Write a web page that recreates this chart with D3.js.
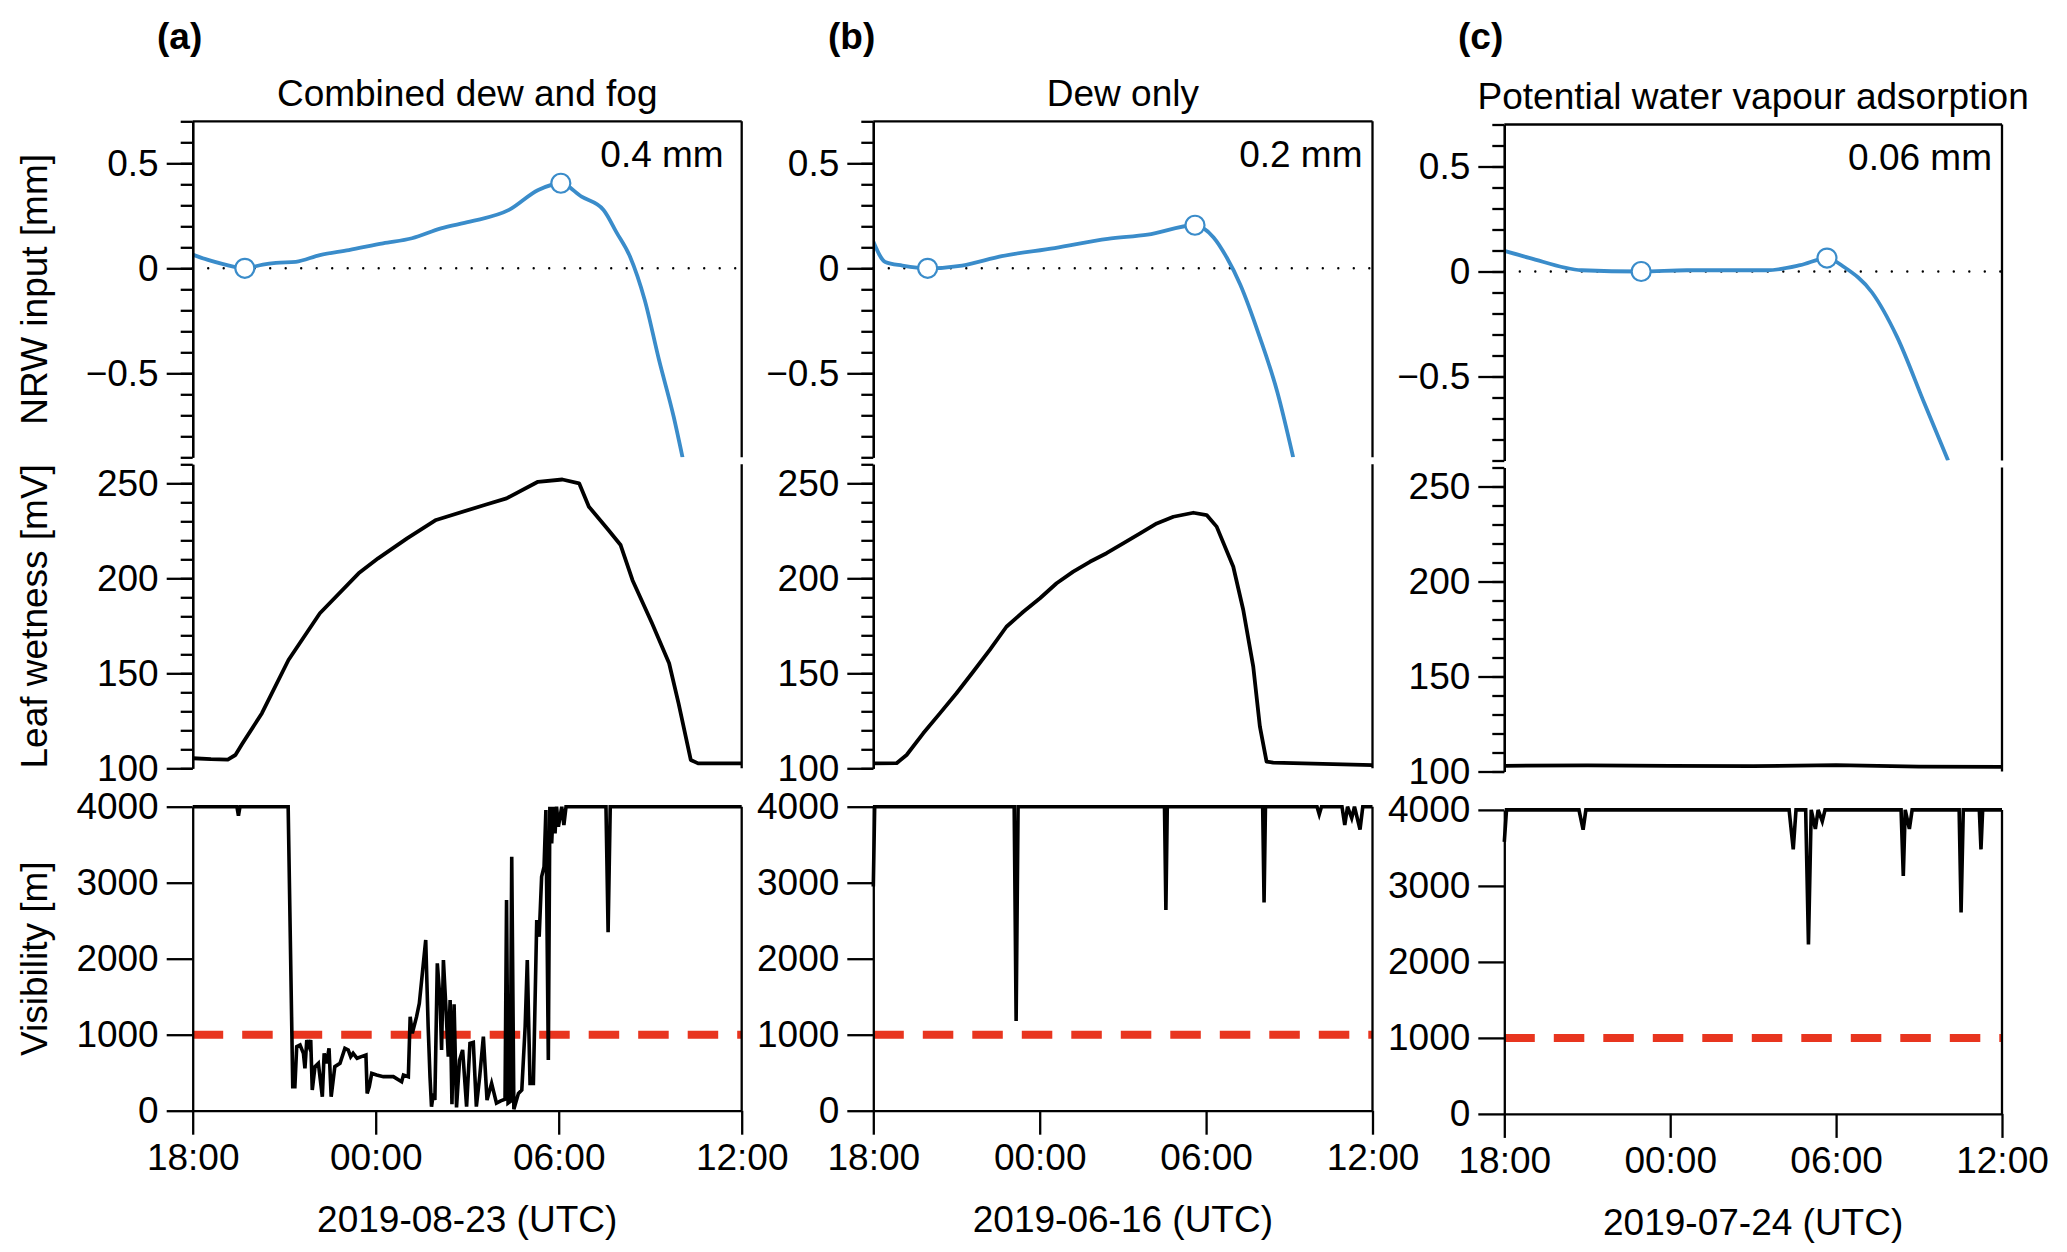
<!DOCTYPE html>
<html>
<head>
<meta charset="utf-8">
<script src="https://cdn.jsdelivr.net/npm/d3@7"></script>
<style>
  body { margin: 0; background: #fff; }
  svg { display: block; font-family: "Liberation Sans", Arial, Helvetica, sans-serif; }
</style>
</head>
<body>
<div id="chart"></div>
<script>
// ---- data (time in hours after 18:00 UTC of the previous day) ----
const hourTicks = [0, 6, 12, 18];
const hourLabels = ['18:00', '00:00', '06:00', '12:00'];
const panelLetters = ['(a)', '(b)', '(c)'];
const panelTitles = ['Combined dew and fog', 'Dew only', 'Potential water vapour adsorption'];
const dateLabels = ['2019-08-23 (UTC)', '2019-06-16 (UTC)', '2019-07-24 (UTC)'];
const inputLabels = ['0.4 mm', '0.2 mm', '0.06 mm'];
const rowLabels = ['NRW input [mm]', 'Leaf wetness [mV]', 'Visibility [m]'];
const fogThreshold = 1000;

const nrwA = [[0, 0.065], [0.5, 0.04], [1.0, 0.02], [1.71, 0], [2.3, 0.018], [2.73, 0.026], [3.38, 0.031],
  [4.17, 0.063], [5.12, 0.087], [6.24, 0.119], [7.19, 0.143], [8.14, 0.19], [9.09, 0.222], [10.37, 0.278],
  [11.33, 0.373], [12.07, 0.405], [12.75, 0.341], [13.47, 0.278], [13.9, 0.17], [14.34, 0.055],
  [14.82, -0.151], [15.29, -0.437], [15.77, -0.707], [16.06, -0.9]];
const nrwB = [[0, 0.128], [0.43, 0.03], [1.05, 0.013], [1.96, 0], [3.2, 0.013], [4.63, 0.058], [6.54, 0.096],
  [8.45, 0.14], [9.89, 0.16], [11.6, 0.205], [12.27, 0.147], [12.75, 0.05], [13.23, -0.077], [13.94, -0.33],
  [14.57, -0.59], [15.14, -0.9]];
const nrwC = [[0, 0.098], [0.9, 0.065], [2.8, 0.006], [4.95, 0], [6.6, 0.006], [9.5, 0.006], [10.7, 0.03],
  [11.67, 0.064], [12.3, 0.02], [13.3, -0.1], [14.2, -0.31], [15.2, -0.63], [16.05, -0.9]];

const marksA = [[1.71, 0], [12.07, 0.405]];
const marksB = [[1.96, 0], [11.6, 0.205]];
const marksC = [[4.95, 0], [11.67, 0.064]];

const leafA = [[0, 105.3], [0.6, 104.8], [1.15, 104.6], [1.4, 107], [1.63, 113], [2.27, 129], [3.14, 157],
  [4.17, 181.6], [5.44, 202.6], [6.08, 210.5], [7.03, 221], [7.98, 230.7], [9.57, 238.6], [10.29, 242.1],
  [11.32, 250.8], [12.12, 252], [12.67, 250], [12.99, 237.7], [13.63, 225.4], [14.03, 217.5], [14.42, 199],
  [15.06, 176.3], [15.62, 155.3], [15.93, 134.2], [16.33, 104.4], [16.57, 102.6], [18, 102.6]];
const leafB = [[0, 102.6], [0.84, 102.7], [1.2, 107], [1.8, 118.4], [2.4, 128.9], [3.0, 139.5], [3.6, 150.8],
  [4.2, 162.3], [4.8, 174.5], [5.41, 182.4], [6.01, 189.5], [6.61, 197.4], [7.21, 203.5], [7.81, 208.7],
  [8.41, 213.2], [9.01, 218.4], [9.62, 223.7], [10.22, 228.9], [10.82, 232.4], [11.54, 234.5], [12.02, 233.3],
  [12.38, 227.2], [12.98, 206.1], [13.34, 183.3], [13.7, 153.5], [13.94, 121.9], [14.18, 103.5], [14.42, 103],
  [18, 101.7]];
const leafC = [[0, 103], [3, 103.2], [6, 103], [9, 102.8], [12, 103.4], [15, 102.6], [18, 102.4]];

const visA = [[0, 4000], [1.45, 4000], [1.5, 3880], [1.55, 4000], [3.13, 4000], [3.28, 316], [3.35, 316],
  [3.41, 842], [3.52, 864], [3.63, 755], [3.68, 558], [3.74, 930], [3.82, 842], [3.87, 930], [3.92, 272],
  [4.01, 580], [4.12, 623], [4.25, 184], [4.31, 755], [4.39, 623], [4.47, 820], [4.54, 184], [4.66, 580],
  [4.83, 623], [4.99, 820], [5.1, 798], [5.18, 711], [5.26, 755], [5.39, 690], [5.53, 711], [5.68, 733],
  [5.72, 228], [5.79, 316], [5.87, 492], [6.03, 470], [6.25, 448], [6.58, 448], [6.85, 382], [6.91, 470],
  [7.07, 448], [7.13, 1237], [7.2, 1018], [7.34, 1237], [7.43, 1412], [7.64, 2246], [7.72, 1105],
  [7.78, 448], [7.83, 53], [7.89, 228], [7.94, 140], [8.02, 1939], [8.11, 1456], [8.16, 798], [8.22, 1983],
  [8.3, 1368], [8.38, 711], [8.44, 1456], [8.5, 86], [8.57, 1400], [8.65, 43], [8.75, 667], [8.85, 800],
  [8.98, 53], [9.09, 887], [9.2, 900], [9.3, 53], [9.41, 450], [9.53, 974], [9.65, 140], [9.8, 360],
  [9.96, 100], [10.1, 130], [10.24, 150], [10.29, 2772], [10.34, 100], [10.41, 120], [10.46, 3342],
  [10.53, 20], [10.68, 228], [10.79, 272], [10.9, 1105], [10.97, 1983], [11.06, 360], [11.17, 360],
  [11.28, 2509], [11.36, 2290], [11.44, 3079], [11.52, 3211], [11.58, 3957], [11.66, 667], [11.71, 3999],
  [11.77, 3518], [11.82, 4000], [11.88, 3650], [11.93, 4000], [11.99, 3737], [12.1, 4000], [12.17, 3759],
  [12.24, 4000], [13.55, 4000], [13.62, 2350], [13.69, 4000], [18, 4000]];
const visB = [[0, 2950], [0.05, 4000], [5.08, 4000], [5.15, 1180], [5.22, 4000], [10.5, 4000], [10.55, 2640],
  [10.6, 4000], [14.04, 4000], [14.09, 2740], [14.14, 4000], [16.0, 4000], [16.08, 3900], [16.16, 4000],
  [16.9, 4000], [17.0, 3760], [17.1, 4000], [17.25, 3850], [17.35, 4000], [17.55, 3700], [17.65, 4000],
  [18, 4000]];
const visC = [[0, 3580], [0.08, 4000], [2.7, 4000], [2.85, 3740], [2.95, 4000], [10.3, 4000], [10.45, 3480],
  [10.55, 4000], [10.9, 4000], [11.0, 2230], [11.1, 4000], [11.25, 3750], [11.35, 4000], [11.5, 3850],
  [11.6, 4000], [14.35, 4000], [14.43, 3130], [14.5, 4000], [14.65, 3750], [14.75, 4000], [16.45, 4000],
  [16.52, 2650], [16.6, 4000], [17.18, 4000], [17.24, 3480], [17.3, 4000], [18, 4000]];

// ---- layout ----
const W = 2067, H = 1252;
const fontSize = 37;
const blue = '#3a8cca';
const red = '#e8351f';

const columns = [
  {left: 192.7, right: 741.7, dy: 0, letterX: 157, noteGap: 18, nrw: nrwA, marks: marksA, leaf: leafA, vis: visA},
  {left: 873.3, right: 1372.5, dy: 0, letterX: 828, noteGap: 10, nrw: nrwB, marks: marksB, leaf: leafB, vis: visB},
  {left: 1504.3, right: 2002, dy: 3.2, letterX: 1458, noteGap: 10, nrw: nrwC, marks: marksC, leaf: leafC, vis: visC}
];
const rows = {nrw: [457.3, 121.3], leaf: [768.3, 464.3], vis: [1110.7, 806.7]};

const svg = d3.select('#chart').append('svg')
  .attr('width', W)
  .attr('height', H);

function styleAxis(g) {
  g.selectAll('path, line').attr('stroke', '#000').attr('stroke-width', 2.3);
  g.selectAll('text').attr('font-size', fontSize).attr('fill', '#000')
    .attr('font-family', '"Liberation Sans", Arial, Helvetica, sans-serif');
}

// left axis with long labelled ticks and short unlabelled ones
function leftAxis(parent, x0, scale, major, minor, fmt) {
  const g = parent.append('g').attr('transform', `translate(${x0},0)`);
  if (minor) {
    g.append('g')
      .call(d3.axisLeft(scale).tickValues(minor).tickSize(12).tickSizeOuter(0).tickFormat(''))
      .call(styleAxis);
  }
  g.append('g')
    .call(d3.axisLeft(scale).tickValues(major).tickSize(26).tickSizeOuter(0).tickPadding(8).tickFormat(fmt))
    .call(styleAxis);
}

function rightBorder(parent, x0, scale) {
  const r = scale.range();
  parent.append('line')
    .attr('x1', x0).attr('x2', x0)
    .attr('y1', r[0]).attr('y2', r[1])
    .attr('stroke', '#000').attr('stroke-width', 2.3);
}

const fmtNrw = d => d === 0 ? '0' : d3.format('.1f')(d);
const fmtInt = d3.format('d');

columns.forEach((col, i) => {
  const g = svg.append('g').attr('class', `column col-${i}`);
  const dy = col.dy;

  const x = d3.scaleLinear().domain([0, 18]).range([col.left, col.right]);
  const yN = d3.scaleLinear().domain([-0.9, 0.7]).range(rows.nrw.map(v => v + dy));
  const yL = d3.scaleLinear().domain([100, 260]).range(rows.leaf.map(v => v + dy));
  const yV = d3.scaleLinear().domain([0, 4000]).range(rows.vis.map(v => v + dy));

  // clip for the NRW line (it runs off the bottom of the panel)
  g.append('clipPath').attr('id', `clip-${i}`)
    .append('rect')
    .attr('x', col.left).attr('y', yN(0.7))
    .attr('width', col.right - col.left).attr('height', yN(-0.9) - yN(0.7));

  // ---- NRW input panel ----
  g.append('line')
    .attr('x1', x(0)).attr('x2', x(18))
    .attr('y1', yN(0)).attr('y2', yN(0))
    .attr('stroke', '#000').attr('stroke-width', 2.4)
    .attr('stroke-linecap', 'round')
    .attr('stroke-dasharray', '0,15.5');

  g.append('path')
    .datum(col.nrw)
    .attr('clip-path', `url(#clip-${i})`)
    .attr('fill', 'none')
    .attr('stroke', blue)
    .attr('stroke-width', 3.8)
    .attr('d', d3.line().x(d => x(d[0])).y(d => yN(d[1])).curve(d3.curveMonotoneX));

  g.selectAll('.mark')
    .data(col.marks)
    .join('circle')
    .attr('class', 'mark')
    .attr('cx', d => x(d[0]))
    .attr('cy', d => yN(d[1]))
    .attr('r', 9.5)
    .attr('fill', '#fff')
    .attr('stroke', blue)
    .attr('stroke-width', 2.2);

  leftAxis(g, col.left, yN, [-0.5, 0, 0.5], d3.range(-9, 8).map(k => k / 10), fmtNrw);
  rightBorder(g, col.right, yN);
  g.append('line')
    .attr('x1', col.left).attr('x2', col.right)
    .attr('y1', yN(0.7)).attr('y2', yN(0.7))
    .attr('stroke', '#000').attr('stroke-width', 2.3);

  // ---- leaf wetness panel ----
  g.append('path')
    .datum(col.leaf)
    .attr('fill', 'none')
    .attr('stroke', '#000')
    .attr('stroke-width', 3.8)
    .attr('stroke-linejoin', 'round')
    .attr('d', d3.line().x(d => x(d[0])).y(d => yL(d[1])));

  leftAxis(g, col.left, yL, [100, 150, 200, 250], d3.range(100, 261, 10), fmtInt);
  rightBorder(g, col.right, yL);

  // ---- visibility panel ----
  g.append('line')
    .attr('x1', x(0)).attr('x2', x(18))
    .attr('y1', yV(fogThreshold)).attr('y2', yV(fogThreshold))
    .attr('stroke', red)
    .attr('stroke-width', 8)
    .attr('stroke-dasharray', '30.5,19');

  g.append('path')
    .datum(col.vis)
    .attr('fill', 'none')
    .attr('stroke', '#000')
    .attr('stroke-width', 3.6)
    .attr('d', d3.line().x(d => x(d[0])).y(d => yV(d[1])));

  leftAxis(g, col.left, yV, [0, 1000, 2000, 3000, 4000], null, fmtInt);
  rightBorder(g, col.right, yV);

  // time axis
  g.append('g')
    .attr('transform', `translate(0,${yV(0)})`)
    .call(d3.axisBottom(x).tickValues(hourTicks).tickSize(24).tickSizeOuter(0).tickPadding(9)
      .tickFormat((d, k) => hourLabels[k]))
    .call(styleAxis);

  // ---- texts ----
  g.append('text')
    .attr('x', col.letterX).attr('y', 49)
    .attr('font-size', fontSize).attr('font-weight', 'bold')
    .text(panelLetters[i]);

  g.append('text')
    .attr('x', (col.left + col.right) / 2).attr('y', 106 + dy)
    .attr('text-anchor', 'middle')
    .attr('font-size', fontSize)
    .text(panelTitles[i]);

  g.append('text')
    .attr('x', col.right - col.noteGap).attr('y', 167 + dy)
    .attr('text-anchor', 'end')
    .attr('font-size', fontSize)
    .text(inputLabels[i]);

  g.append('text')
    .attr('x', (col.left + col.right) / 2).attr('y', 1232 + dy)
    .attr('text-anchor', 'middle')
    .attr('font-size', fontSize)
    .text(dateLabels[i]);

  // row titles only on the first column
  if (i === 0) {
    [yN, yL, yV].forEach((s, k) => {
      const r = s.range();
      g.append('text')
        .attr('transform', `translate(47,${(r[0] + r[1]) / 2}) rotate(-90)`)
        .attr('text-anchor', 'middle')
        .attr('font-size', fontSize)
        .text(rowLabels[k]);
    });
  }
});
</script>
</body>
</html>
